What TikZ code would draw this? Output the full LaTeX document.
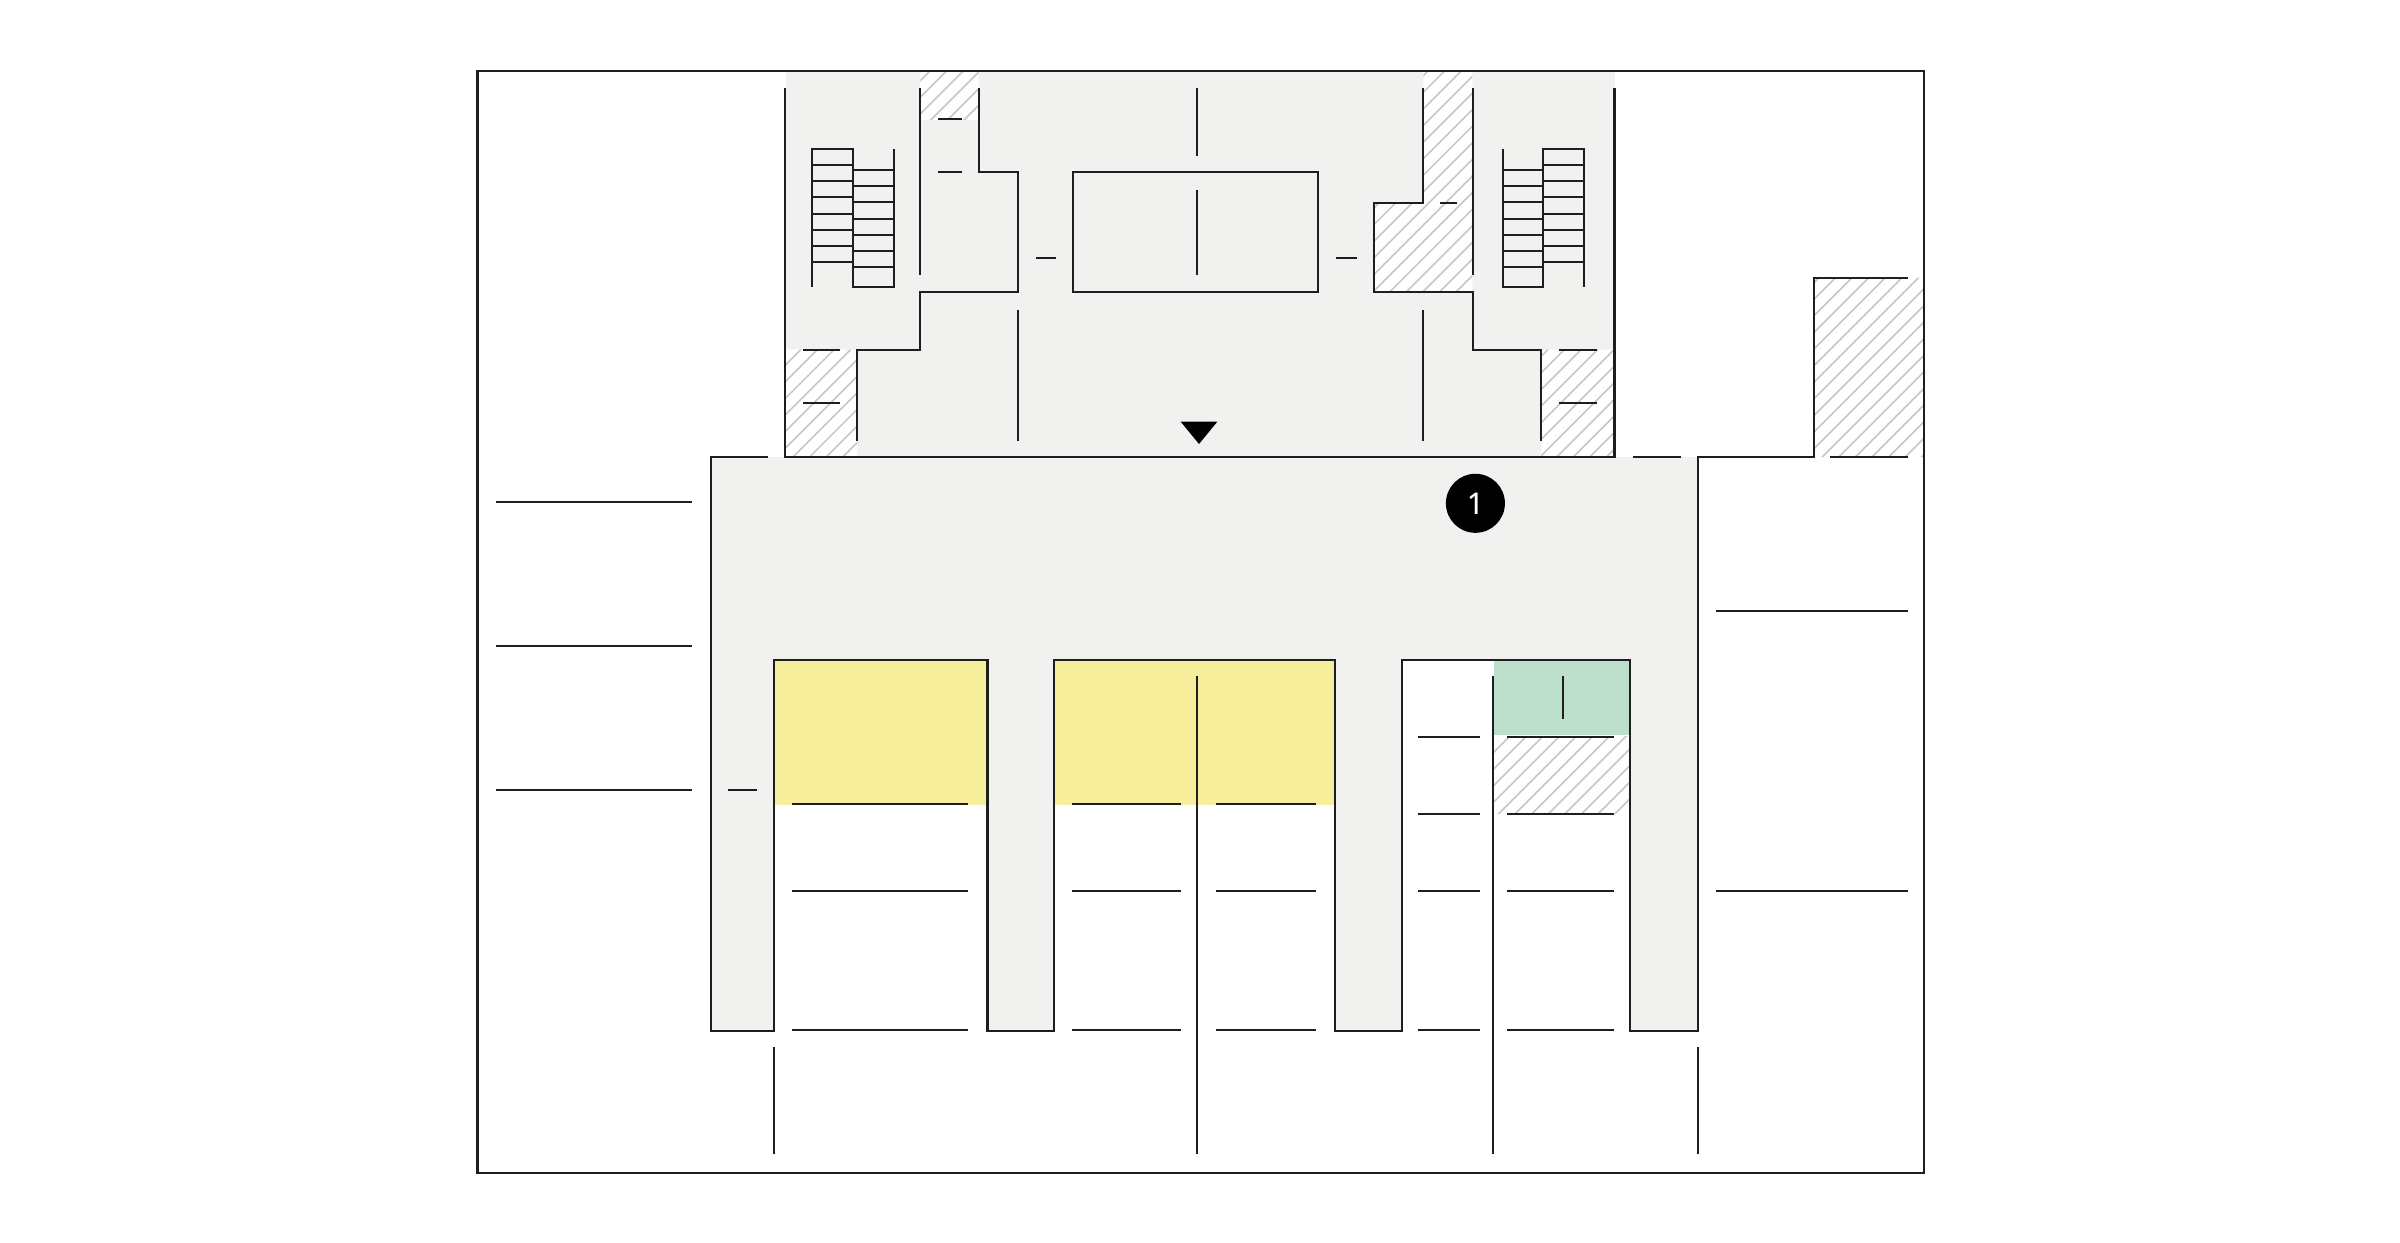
\documentclass[tikz,border=0pt]{standalone}
\usepackage{fontspec}
\setmainfont{Open Sans}
\newfontfamily\badgefont[FakeBold=0.5]{Open Sans}
\definecolor{paving}{HTML}{F1F1EF}
\definecolor{wallink}{HTML}{1E1E1E}
\definecolor{hatchgrey}{HTML}{C6C6C6}
\definecolor{plotyellow}{HTML}{F6EE9A}
\definecolor{plotgreen}{HTML}{BCDFCB}

\begin{document}
\begin{tikzpicture}[x=0.01cm, y=-0.01cm,
  wall/.style={draw=wallink, line width=0.6pt, line join=miter},
  hatchline/.style={draw=hatchgrey, line width=0.45pt},
  badge/.style={circle, fill=black, text=white, inner sep=0pt, minimum size=0.59cm,
    font=\fontsize{8.4}{10}\badgefont}]
  \useasboundingbox (0,0) rectangle (2400,1242);

  \fill[paving] (786,71) rectangle (1614.5,457);
  \fill[paving] (710.8,457) -- (1698,457) -- (1698,1031) -- (1630.4,1031) -- (1630.4,660)
    -- (1402.3,660) -- (1402.3,1031) -- (1334.8,1031) -- (1334.8,660) -- (1054.3,660)
    -- (1054.3,1031) -- (987.5,1031) -- (987.5,660) -- (774,660) -- (774,1031)
    -- (710.8,1031) -- cycle;
  \fill[plotyellow] (774,660) rectangle (987.5,804.6);
  \fill[plotyellow] (1054.3,660) rectangle (1334.8,804.6);
  \fill[plotgreen] (1494,660) rectangle (1630.4,735.4);

  \begin{scope}
    \clip (920.3,71) rectangle (978.7,120)
      (1423.3,71) -- (1472.3,71) -- (1472.3,292.3) -- (1373.7,292.3) -- (1373.7,202.7) -- (1423.3,202.7) -- cycle
      (786,349.7) rectangle (857.3,457)
      (1541.3,349.7) rectangle (1614,457)
      (1814.3,277.7) rectangle (1924,457)
      (1494,736) rectangle (1630.4,814);
    \fill[white] (0,0) rectangle (2400,1242);
    \foreach \h in {0,...,190}
      \draw[hatchline] ({5+16.6*\h},0) -- ({5+16.6*\h-1242},1242);
    \foreach \h in {0,...,30}
      \draw[hatchline] ({3159+16.6*\h},0) -- ({3159+16.6*\h-1242},1242);
  \end{scope}

  \draw[wall] (477.5,71) rectangle (1924,1173);

  \draw[wall] (768,457) -- (710.8,457) -- (710.8,1031) -- (774,1031) -- (774,660)
    -- (987.5,660) -- (987.5,1031) -- (1054.3,1031) -- (1054.3,660) -- (1334.8,660)
    -- (1334.8,1031) -- (1402.3,1031) -- (1402.3,660) -- (1630.4,660) -- (1630.4,1031)
    -- (1698,1031) -- (1698,457.3) -- (1814.3,457.3) -- (1814.3,277.7) -- (1908,277.7);
  \draw[wall] (785.3,88.3) -- (785.3,457.3) -- (1614.5,457.3) -- (1614.5,88.3);
  \draw[wall] (1633,457.3) -- (1681,457.3);
  \draw[wall] (1829.8,457.3) -- (1908,457.3);

  \draw[wall] (920.3,88.3) -- (920.3,275);
  \draw[wall] (978.7,88.3) -- (978.7,172.3) -- (1017.7,172.3) -- (1017.7,292.3) -- (920.3,292.3)
    -- (920.3,349.7) -- (857.3,349.7) -- (857.3,441);
  \draw[wall] (1472.7,88.3) -- (1472.7,275);
  \draw[wall] (1423.3,88.3) -- (1423.3,202.7) -- (1373.7,202.7) -- (1373.7,292.3) -- (1472.7,292.3)
    -- (1472.7,349.7) -- (1541.3,349.7) -- (1541.3,441);
  \draw[wall] (1073.3,172.3) rectangle (1318.3,292.3);
  \draw[wall] (1196.7,88.3) -- (1196.7,155.7);
  \draw[wall] (1196.7,190) -- (1196.7,275.3);
  \draw[wall] (1017.7,310) -- (1017.7,441);
  \draw[wall] (1423.3,310) -- (1423.3,441);

  \foreach \xa/\xb/\yy in {938.3/962.3/119.3, 938.3/962.3/172.3, 1035.7/1056.3/258, 1335.7/1357.3/258,
      1440/1456.7/202.7, 803.3/840.3/349.7, 803.3/840.3/402.7, 1559/1597/349.7, 1559/1597/402.7,
      496/692/502, 496/692/646, 496/692/790, 728/757/790, 1716/1908/611.3, 1716/1908/891,
      791.5/967.5/804, 791.5/967.5/891, 791.5/967.5/1030,
      1071.6/1180.5/804, 1071.6/1180.5/891, 1071.6/1180.5/1030,
      1215.6/1315.8/804, 1215.6/1315.8/891, 1215.6/1315.8/1030,
      1418/1479.5/737, 1418/1479.5/814, 1418/1479.5/891, 1418/1479.5/1030,
      1507.3/1613.5/737, 1507.3/1613.5/814, 1507.3/1613.5/891, 1507.3/1613.5/1030}
    \draw[wall] (\xa,\yy) -- (\xb,\yy);

  \draw[wall] (1197.4,675.5) -- (1197.4,1154);
  \draw[wall] (1493.4,675.5) -- (1493.4,1154);
  \draw[wall] (1563.2,675.5) -- (1563.2,719);
  \draw[wall] (774,1047.4) -- (774,1154);
  \draw[wall] (1698,1047.4) -- (1698,1154);

  \draw[wall] (811.7,286.7) -- (811.7,149) -- (852.7,149) -- (852.7,286.7) -- (893.7,286.7) -- (893.7,149);
  \foreach \yy in {165.3,181.3,197.3,214,230,246,262.3}
    \draw[wall] (811.7,\yy) -- (852.7,\yy);
  \foreach \yy in {169.7,186,202.3,219,235,251,267.3}
    \draw[wall] (852.7,\yy) -- (893.7,\yy);

  \draw[wall] (1502.7,149) -- (1502.7,286.7) -- (1543.3,286.7) -- (1543.3,149) -- (1584.3,149) -- (1584.3,286.7);
  \foreach \yy in {169.7,186,202.3,219,235,251,267.3}
    \draw[wall] (1502.7,\yy) -- (1543.3,\yy);
  \foreach \yy in {165.3,181.3,197.3,214,230,246,262.3}
    \draw[wall] (1543.3,\yy) -- (1584.3,\yy);

  \fill[black] (1180.7,421.7) -- (1217.3,421.7) -- (1199,444) -- cycle;
  \node[badge] (badge1) at (1475.4,503.3) {1};
\end{tikzpicture}
\end{document}
